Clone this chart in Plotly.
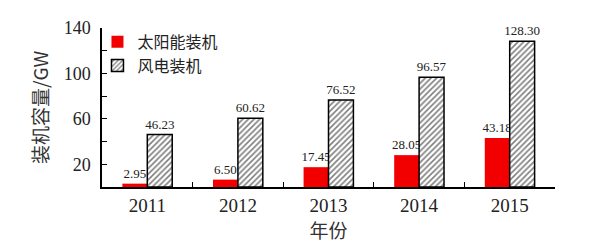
import plotly.graph_objects as go

years = ["2011", "2012", "2013", "2014", "2015"]
solar = [2.95, 6.50, 17.45, 28.05, 43.18]
wind = [46.23, 60.62, 76.52, 96.57, 128.30]
solar_name = "太阳能装机"
wind_name = "风电装机"
y_ticks = [20, 60, 100, 140]

serif = "Liberation Serif, Times New Roman, serif"
cjk = "Noto Sans CJK SC"

fig = go.Figure()
fig.add_trace(go.Bar(
    x=years, y=solar, name=solar_name,
    marker=dict(color="#f20000", line=dict(width=0)),
    text=[f"{v:.2f}" for v in solar], textposition="outside", constraintext="none",
    textfont=dict(family=serif, size=13, color="#222"),
    cliponaxis=False,
))
fig.add_trace(go.Bar(
    x=years, y=wind, name=wind_name,
    marker=dict(color="white", line=dict(color="black", width=1.5),
                pattern=dict(shape="/", fgcolor="black", bgcolor="white", size=4, solidity=0.4)),
    text=[f"{v:.2f}" for v in wind], textposition="outside", constraintext="none",
    textfont=dict(family=serif, size=13, color="#222"),
    cliponaxis=False,
))

fig.update_layout(
    width=589, height=250,
    margin=dict(l=102, r=34, t=28, b=63),
    paper_bgcolor="white", plot_bgcolor="white",
    barmode="group", bargap=0.45, bargroupgap=0,
    showlegend=True,
    legend=dict(x=-0.01, y=1.02, xanchor="left", yanchor="top",
                font=dict(family=cjk, size=16, color="#222"),
                bgcolor="rgba(0,0,0,0)", tracegroupgap=0, itemwidth=30),
    xaxis=dict(
        showline=True, linecolor="black", linewidth=1.5,
        ticks="inside", tickson="boundaries", ticklen=5, tickcolor="black",
        tickfont=dict(family=serif, size=19, color="#222"),
        title=dict(text="年份", font=dict(family=cjk, size=19, color="#333"), standoff=8),
        showgrid=False,
    ),
    yaxis=dict(
        range=[0, 140], showline=True, linecolor="black", linewidth=1.5,
        tickmode="array", tickvals=y_ticks, ticks="inside", ticklen=5, tickcolor="black",
        minor=dict(dtick=20, tick0=0, ticks="inside", ticklen=5, tickcolor="black", showgrid=False),
        tickfont=dict(family=serif, size=18, color="#222"),
        ticklabelstandoff=6,
        title=dict(text="装机容量/GW", font=dict(family=cjk, size=19, color="#333"), standoff=10),
        showgrid=False, zeroline=False,
    ),
)

fig.write_html("out.html")
